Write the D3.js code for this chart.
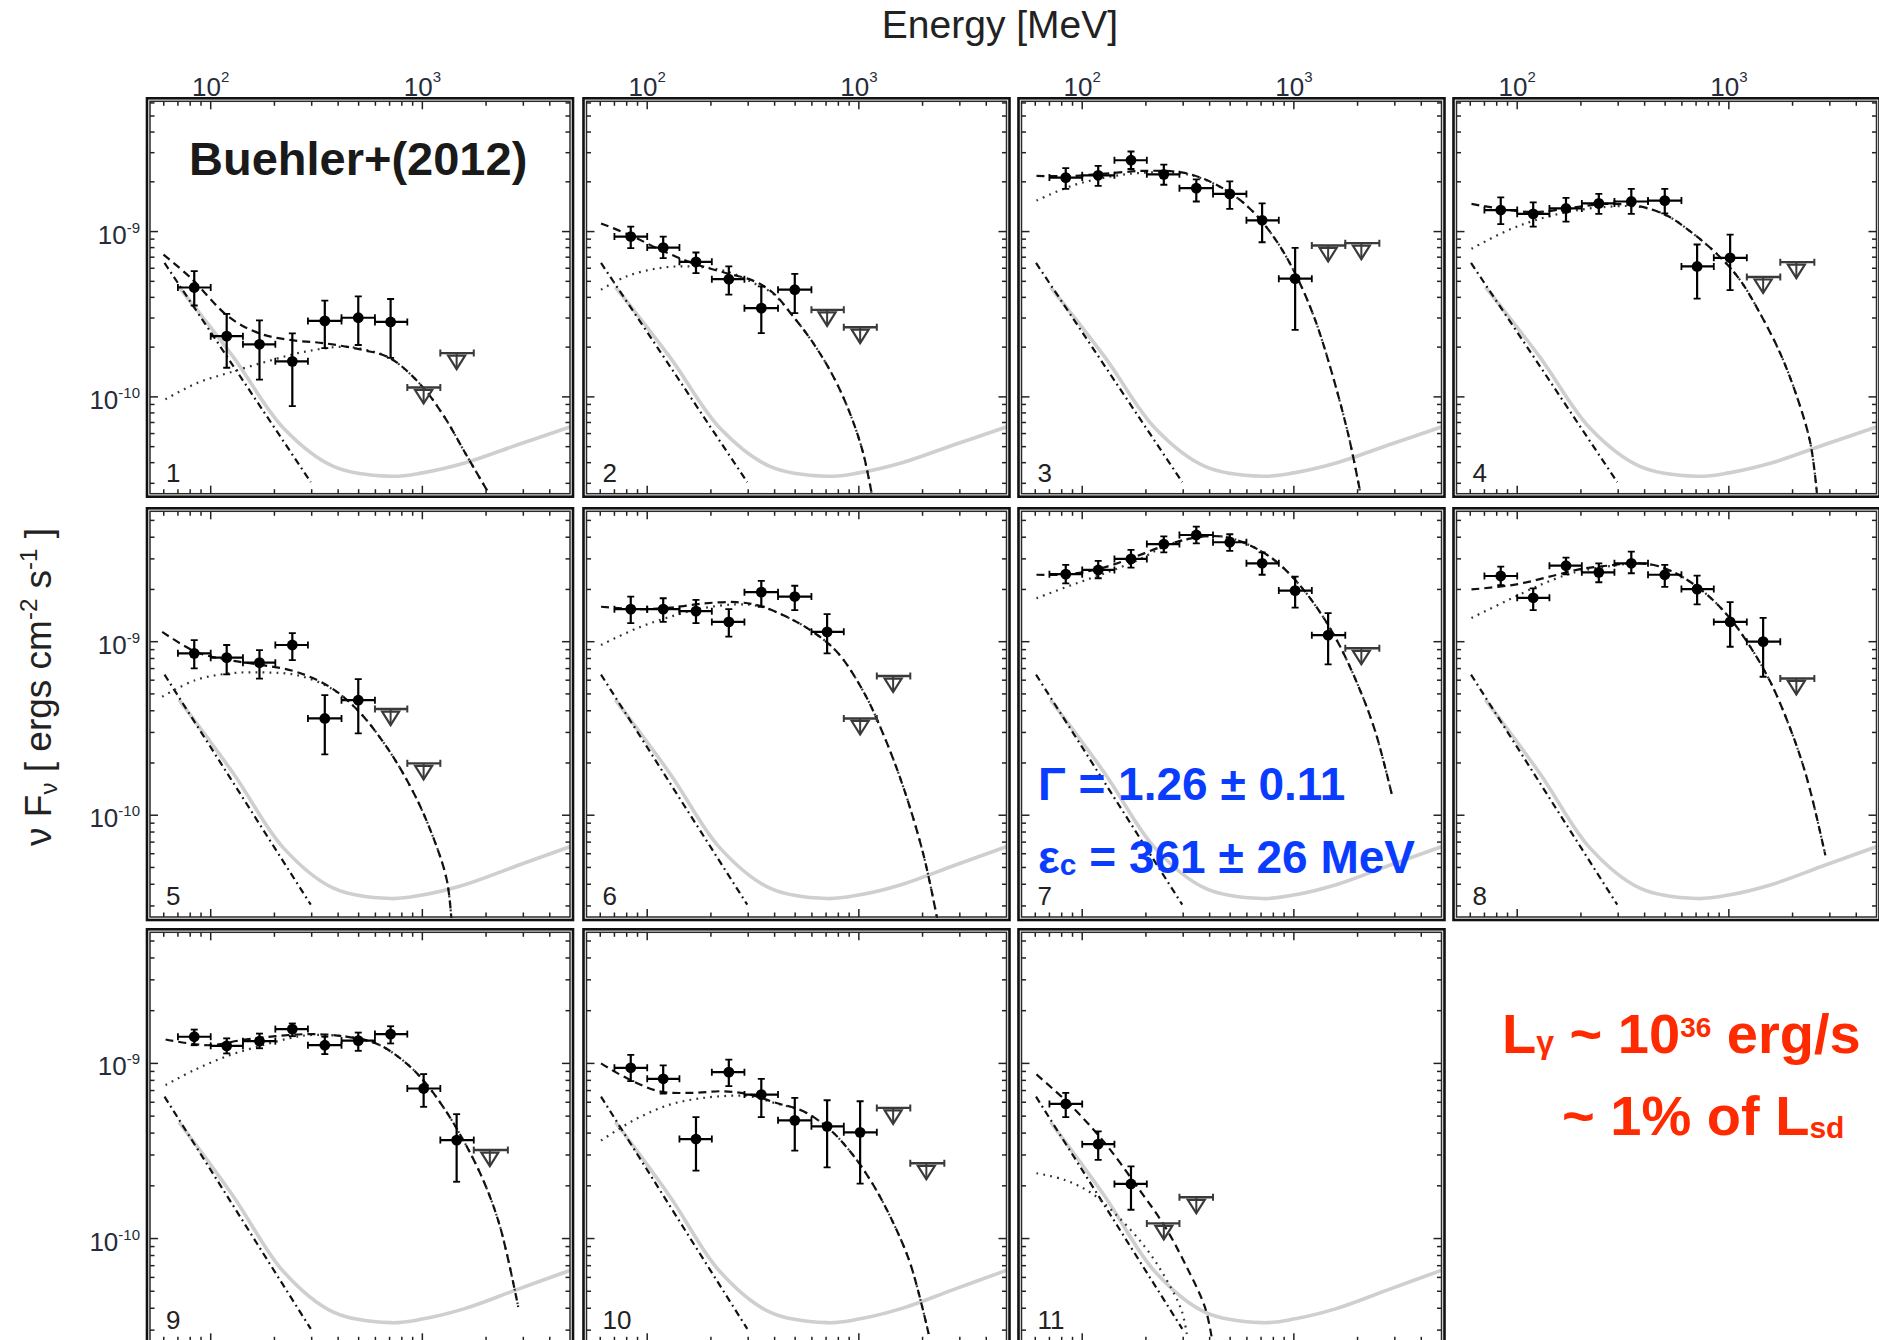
<!DOCTYPE html>
<html>
<head>
<meta charset="utf-8">
<script src="https://cdn.jsdelivr.net/npm/d3@7"></script>
<style>
  html, body { margin: 0; padding: 0; background: #fff; overflow: hidden; }
  svg { display: block; }
  text { font-family: "Liberation Sans", Arial, Helvetica, sans-serif; }
</style>
</head>
<body>
<svg id="chart" width="1879" height="1340"></svg>
<script>
// ---- Energy binning shared by every time interval (MeV) ----
const binLo  = [70, 100, 142, 202, 288, 415, 597, 849, 1216, 1750];
const binHi  = [100, 142, 202, 288, 415, 597, 849, 1216, 1750, 2535];
const binMid = [83.6, 119, 170, 243, 346, 498, 708, 1014, 1452, 2084];

// ---- Axis tick labels (decade, exponent text) ----
const xTickLabels = [[100, "2"], [1000, "3"]];
const yTickLabels = [[1e-9, "-9"], [1e-10, "-10"]];

// ---- Steady components, identical in every interval: [E (MeV), nuFnu] ----
const nebulaSteady = [[70.8, 4.62e-10], [128, 1.74e-10], [221, 6.46e-11], [380, 3.80e-11], [708, 3.31e-11],
  [1000, 3.47e-11], [1585, 3.98e-11], [2818, 5.13e-11], [5012, 6.6e-11]];
const syncPowerLaw = [[60.5, 6.46e-10], [297, 3.05e-11]];

// ---- Interval spectra: detections [bin, flux, fluxLow, fluxHigh], upper limits [bin, flux],
//      total model and flare component [E, nuFnu] ----
const sed1 = [[0, 4.59e-10, 3.57e-10, 5.77e-10], [1, 2.33e-10, 1.50e-10, 3.18e-10], [2, 2.08e-10, 1.27e-10, 2.90e-10],
  [3, 1.64e-10, 8.8e-11, 2.42e-10], [4, 2.88e-10, 1.97e-10, 3.82e-10], [5, 3.01e-10, 2.06e-10, 4.06e-10], [6, 2.84e-10, 1.72e-10, 3.91e-10]];
const ul1 = [[7, 1.14e-10], [8, 1.84e-10]];
const total1 = [[59.8, 7.26e-10], [80.2, 5.27e-10], [122, 3.04e-10], [170, 2.42e-10], [237, 2.21e-10], [345, 2.11e-10],
  [524, 1.92e-10], [701, 1.72e-10], [979, 1.19e-10], [1259, 7.71e-11], [1614, 4.45e-11], [2032, 2.69e-11]];
const flare1 = [[61.1, 9.68e-11], [87.1, 1.22e-10], [122, 1.40e-10], [185, 1.64e-10], [280, 1.88e-10], [426, 2.01e-10],
  [546, 1.92e-10], [701, 1.72e-10], [979, 1.19e-10], [1259, 7.71e-11], [1614, 4.45e-11], [2032, 2.69e-11]];

const sed2 = [[0, 9.33e-10, 7.93e-10, 1.07e-9], [1, 8.0e-10, 6.9e-10, 9.33e-10], [2, 6.56e-10, 5.6e-10, 7.47e-10],
  [3, 5.15e-10, 4.15e-10, 6.15e-10], [4, 3.44e-10, 2.43e-10, 4.66e-10], [5, 4.45e-10, 3.21e-10, 5.55e-10]];
const ul2 = [[6, 3.36e-10], [7, 2.64e-10]];
const total2 = [[60.5, 1.12e-9], [82.4, 9.55e-10], [114, 7.82e-10], [164, 6.44e-10], [237, 5.60e-10], [316, 5.05e-10],
  [394, 4.25e-10], [489, 3.07e-10], [608, 2.12e-10], [757, 1.33e-10], [906, 8.0e-11], [1047, 4.59e-11], [1148, 2.63e-11]];
const flare2 = [[60.5, 4.45e-10], [79.6, 5.35e-10], [114, 6.01e-10], [164, 6.15e-10], [237, 5.74e-10], [316, 4.90e-10],
  [394, 4.2e-10], [489, 3.07e-10], [608, 2.12e-10], [757, 1.33e-10], [906, 8.0e-11], [1047, 4.59e-11], [1148, 2.63e-11]];

const sed3 = [[0, 2.12e-9, 1.81e-9, 2.42e-9], [1, 2.19e-9, 1.89e-9, 2.50e-9], [2, 2.70e-9, 2.39e-9, 3.05e-9],
  [3, 2.22e-9, 1.92e-9, 2.54e-9], [4, 1.83e-9, 1.52e-9, 2.07e-9], [5, 1.69e-9, 1.37e-9, 2.01e-9],
  [6, 1.17e-9, 8.62e-10, 1.48e-9], [7, 5.19e-10, 2.54e-10, 7.97e-10]];
const ul3 = [[8, 8.24e-10], [9, 8.51e-10]];
const total3 = [[60.8, 2.17e-9], [89.1, 2.17e-9], [128, 2.24e-9], [198, 2.33e-9], [295, 2.28e-9], [380, 2.07e-9],
  [509, 1.69e-9], [656, 1.28e-9], [845, 8.43e-10], [1052, 5.07e-10], [1262, 2.91e-10], [1514, 1.39e-10], [1816, 5.77e-11], [2061, 2.63e-11]];
const flare3 = [[60.8, 1.54e-9], [89.1, 1.89e-9], [128, 2.12e-9], [184, 2.26e-9], [295, 2.25e-9], [380, 2.06e-9],
  [509, 1.69e-9], [656, 1.28e-9], [845, 8.43e-10], [1052, 5.07e-10], [1262, 2.91e-10], [1514, 1.39e-10], [1816, 5.77e-11], [2061, 2.63e-11]];

const sed4 = [[0, 1.35e-9, 1.11e-9, 1.61e-9], [1, 1.28e-9, 1.07e-9, 1.50e-9], [2, 1.38e-9, 1.15e-9, 1.60e-9],
  [3, 1.48e-9, 1.28e-9, 1.69e-9], [4, 1.52e-9, 1.28e-9, 1.81e-9], [5, 1.54e-9, 1.29e-9, 1.81e-9],
  [6, 6.15e-10, 3.93e-10, 8.35e-10], [7, 6.94e-10, 4.42e-10, 9.59e-10]];
const ul4 = [[8, 5.31e-10], [9, 6.53e-10]];
const total4 = [[60.8, 1.47e-9], [119, 1.31e-9], [184, 1.40e-9], [265, 1.47e-9], [380, 1.42e-9], [509, 1.25e-9],
  [681, 9.68e-10], [910, 7.0e-10], [1132, 5.07e-10], [1406, 3.19e-10], [1750, 1.83e-10], [2099, 1.0e-10], [2427, 5.26e-11], [2606, 2.63e-11]];
const flare4 = [[60.8, 7.87e-10], [89.1, 1.01e-9], [119, 1.16e-9], [171, 1.31e-9], [246, 1.40e-9], [380, 1.41e-9],
  [509, 1.25e-9], [681, 9.68e-10], [910, 7.0e-10], [1132, 5.07e-10], [1406, 3.19e-10], [1750, 1.83e-10], [2099, 1.0e-10], [2427, 5.26e-11], [2606, 2.63e-11]];

const sed5 = [[0, 8.57e-10, 7.02e-10, 1.02e-9], [1, 8.09e-10, 6.48e-10, 9.57e-10], [2, 7.57e-10, 6.13e-10, 8.95e-10],
  [3, 9.57e-10, 7.84e-10, 1.12e-9], [4, 3.61e-10, 2.24e-10, 4.92e-10], [5, 4.60e-10, 2.96e-10, 6.09e-10]];
const ul5 = [[6, 4.09e-10], [7, 1.99e-10]];
const total5 = [[59, 1.14e-9], [84.9, 8.75e-10], [122, 7.83e-10], [176, 7.33e-10], [253, 6.71e-10], [364, 5.50e-10],
  [486, 4.12e-10], [652, 2.65e-10], [871, 1.49e-10], [1084, 8.38e-11], [1300, 4.32e-11], [1371, 2.54e-11]];
const flare5 = [[59, 4.82e-10], [84.9, 6.01e-10], [122, 6.56e-10], [176, 6.65e-10], [253, 6.43e-10], [364, 5.45e-10],
  [486, 4.12e-10], [652, 2.65e-10], [871, 1.49e-10], [1084, 8.38e-11], [1300, 4.32e-11], [1371, 2.54e-11]];

const sed6 = [[0, 1.54e-9, 1.28e-9, 1.82e-9], [1, 1.54e-9, 1.30e-9, 1.78e-9], [2, 1.50e-9, 1.28e-9, 1.74e-9],
  [3, 1.30e-9, 1.07e-9, 1.54e-9], [4, 1.93e-9, 1.59e-9, 2.24e-9], [5, 1.82e-9, 1.52e-9, 2.10e-9], [6, 1.14e-9, 8.57e-10, 1.44e-9]];
const ul6 = [[7, 3.61e-10], [8, 6.34e-10]];
const total6 = [[60.5, 1.59e-9], [88.7, 1.54e-9], [128, 1.57e-9], [184, 1.66e-9], [264, 1.69e-9], [340, 1.61e-9],
  [456, 1.39e-9], [587, 1.17e-9], [787, 8.75e-10], [1052, 5.15e-10], [1309, 2.90e-10], [1629, 1.43e-10], [2023, 5.87e-11], [2344, 2.54e-11]];
const flare6 = [[60.5, 9.57e-10], [88.7, 1.19e-9], [128, 1.39e-9], [184, 1.56e-9], [264, 1.64e-9], [340, 1.60e-9],
  [456, 1.39e-9], [587, 1.17e-9], [787, 8.75e-10], [1052, 5.15e-10], [1309, 2.90e-10], [1629, 1.43e-10], [2023, 5.87e-11], [2344, 2.54e-11]];

const sed7 = [[0, 2.45e-9, 2.17e-9, 2.77e-9], [1, 2.59e-9, 2.32e-9, 2.92e-9], [2, 3.00e-9, 2.67e-9, 3.38e-9],
  [3, 3.65e-9, 3.27e-9, 4.04e-9], [4, 4.12e-9, 3.69e-9, 4.60e-9], [5, 3.74e-9, 3.34e-9, 4.16e-9],
  [6, 2.83e-9, 2.43e-9, 3.27e-9], [7, 1.97e-9, 1.57e-9, 2.37e-9], [8, 1.09e-9, 7.40e-10, 1.46e-9]];
const ul7 = [[9, 9.16e-10]];
const total7 = [[60.8, 2.43e-9], [82.8, 2.44e-9], [119, 2.62e-9], [171, 3.03e-9], [246, 3.58e-9], [341, 3.98e-9],
  [456, 4.04e-9], [589, 3.69e-9], [787, 3.03e-9], [1014, 2.27e-9], [1309, 1.52e-9], [1626, 9.77e-10], [2023, 5.50e-10], [2427, 3.03e-10], [2911, 1.30e-10]];
const flare7 = [[60.8, 1.78e-9], [89.1, 2.12e-9], [128, 2.48e-9], [184, 2.96e-9], [246, 3.55e-9], [341, 3.97e-9],
  [456, 4.04e-9], [589, 3.69e-9], [787, 3.03e-9], [1014, 2.27e-9], [1309, 1.52e-9], [1626, 9.77e-10], [2023, 5.50e-10], [2427, 3.03e-10], [2911, 1.30e-10]];

const sed8 = [[0, 2.39e-9, 2.12e-9, 2.71e-9], [1, 1.79e-9, 1.52e-9, 2.03e-9], [2, 2.74e-9, 2.44e-9, 3.05e-9],
  [3, 2.51e-9, 2.20e-9, 2.83e-9], [4, 2.83e-9, 2.48e-9, 3.30e-9], [5, 2.43e-9, 2.07e-9, 2.77e-9],
  [6, 2.01e-9, 1.64e-9, 2.40e-9], [7, 1.30e-9, 9.35e-10, 1.69e-9], [8, 1.00e-9, 6.28e-10, 1.37e-9]];
const ul8 = [[9, 6.14e-10]];
const total8 = [[60.8, 2.00e-9], [99.3, 2.14e-9], [148, 2.40e-9], [198, 2.62e-9], [265, 2.74e-9], [354, 2.83e-9],
  [456, 2.74e-9], [589, 2.40e-9], [787, 1.87e-9], [1014, 1.36e-9], [1262, 9.35e-10], [1570, 5.87e-10], [1950, 3.16e-10], [2339, 1.63e-10], [2858, 5.87e-11]];
const flare8 = [[60.8, 1.37e-9], [89.1, 1.72e-9], [128, 2.12e-9], [171, 2.43e-9], [198, 2.55e-9], [265, 2.71e-9], [354, 2.82e-9],
  [456, 2.74e-9], [589, 2.40e-9], [787, 1.87e-9], [1014, 1.36e-9], [1262, 9.35e-10], [1570, 5.87e-10], [1950, 3.16e-10], [2339, 1.63e-10], [2858, 5.87e-11]];

const sed9 = [[0, 1.42e-9, 1.27e-9, 1.56e-9], [1, 1.26e-9, 1.14e-9, 1.39e-9], [2, 1.34e-9, 1.22e-9, 1.48e-9],
  [3, 1.57e-9, 1.43e-9, 1.69e-9], [4, 1.27e-9, 1.13e-9, 1.42e-9], [5, 1.35e-9, 1.18e-9, 1.50e-9],
  [6, 1.47e-9, 1.30e-9, 1.63e-9], [7, 7.19e-10, 5.65e-10, 8.69e-10], [8, 3.65e-10, 2.11e-10, 5.13e-10]];
const ul9 = [[9, 3.20e-10]];
const total9 = [[61.2, 1.37e-9], [98.2, 1.27e-9], [141, 1.36e-9], [203, 1.43e-9], [292, 1.47e-9], [421, 1.43e-9],
  [605, 1.30e-9], [809, 1.04e-9], [1007, 8.04e-10], [1253, 5.65e-10], [1560, 3.65e-10], [1941, 2.15e-10], [2328, 1.17e-10], [2838, 4.07e-11]];
const flare9 = [[61.2, 7.52e-10], [84.9, 9.25e-10], [122, 1.11e-9], [176, 1.27e-9], [235, 1.39e-9], [292, 1.45e-9], [421, 1.43e-9],
  [605, 1.30e-9], [809, 1.04e-9], [1007, 8.04e-10], [1253, 5.65e-10], [1560, 3.65e-10], [1941, 2.15e-10], [2328, 1.17e-10], [2838, 4.07e-11]];

const sed10 = [[0, 9.44e-10, 7.92e-10, 1.12e-9], [1, 8.17e-10, 6.73e-10, 9.75e-10], [2, 3.70e-10, 2.44e-10, 4.94e-10],
  [3, 8.91e-10, 7.41e-10, 1.05e-9], [4, 6.64e-10, 4.94e-10, 8.17e-10], [5, 4.73e-10, 3.18e-10, 6.35e-10],
  [6, 4.37e-10, 2.55e-10, 6.16e-10], [7, 4.04e-10, 2.06e-10, 6.08e-10]];
const ul10 = [[8, 5.57e-10], [9, 2.69e-10]];
const total10 = [[60.5, 1.00e-9], [79.4, 8.28e-10], [114, 6.93e-10], [164, 6.79e-10], [229, 6.93e-10], [305, 6.64e-10],
  [408, 5.94e-10], [547, 5.33e-10], [731, 4.18e-10], [910, 3.14e-10], [1132, 2.16e-10], [1409, 1.33e-10], [1750, 7.19e-11], [2138, 2.85e-11]];
const flare10 = [[60.5, 3.63e-10], [88.7, 4.82e-10], [128, 5.82e-10], [184, 6.35e-10], [264, 6.55e-10], [305, 6.5e-10],
  [408, 5.9e-10], [547, 5.33e-10], [731, 4.18e-10], [910, 3.14e-10], [1132, 2.16e-10], [1409, 1.33e-10], [1750, 7.19e-11], [2138, 2.85e-11]];

const sed11 = [[0, 5.87e-10, 4.94e-10, 6.79e-10], [1, 3.46e-10, 2.81e-10, 4.09e-10], [2, 2.05e-10, 1.46e-10, 2.58e-10]];
const ul11 = [[3, 1.22e-10], [4, 1.72e-10]];
const total11 = [[60.8, 8.65e-10], [89.1, 5.69e-10], [128, 3.51e-10], [184, 1.94e-10], [246, 1.17e-10], [306, 7.19e-11],
  [380, 4.06e-11], [409, 2.73e-11]];
const flare11 = [[60.8, 2.36e-10], [82.8, 2.16e-10], [111, 1.81e-10], [148, 1.33e-10], [198, 8.95e-11], [246, 6.03e-11],
  [295, 3.88e-11], [312, 2.85e-11]];

// ---- Panel grid ----
const panels = [
  { id: "1", sed: sed1, ul: ul1, total: total1, flare: flare1 },
  { id: "2", sed: sed2, ul: ul2, total: total2, flare: flare2 },
  { id: "3", sed: sed3, ul: ul3, total: total3, flare: flare3 },
  { id: "4", sed: sed4, ul: ul4, total: total4, flare: flare4 },
  { id: "5", sed: sed5, ul: ul5, total: total5, flare: flare5 },
  { id: "6", sed: sed6, ul: ul6, total: total6, flare: flare6 },
  { id: "7", sed: sed7, ul: ul7, total: total7, flare: flare7 },
  { id: "8", sed: sed8, ul: ul8, total: total8, flare: flare8 },
  { id: "9", sed: sed9, ul: ul9, total: total9, flare: flare9 },
  { id: "10", sed: sed10, ul: ul10, total: total10, flare: flare10 },
  { id: "11", sed: sed11, ul: ul11, total: total11, flare: flare11 }
];

const colLeft = [147, 583.5, 1018.5, 1453.5];
const panelW = 426;
const rowTop = [98.3, 508.3, 929.3];
const rowH = [398.4, 411.7, 415];
const rowFluxMax = [6.4e-9, 5.87e-9, 5.83e-9];
const fluxMin = 2.49e-11;
const energyDomain = [50, 5150];

const svg = d3.select("#chart");
const defs = svg.append("defs");

panels.forEach((p, i) => {
  const col = i % 4, row = Math.floor(i / 4);
  const left = colLeft[col], top = rowTop[row], h = rowH[row];

  const x = d3.scaleLog().domain(energyDomain).range([left, left + panelW]);
  const y = d3.scaleLog().domain([fluxMin, rowFluxMax[row]]).range([top + h, top]);

  const g = svg.append("g").attr("class", "panel");
  const clipId = "clip" + p.id;
  defs.append("clipPath").attr("id", clipId)
    .append("rect").attr("x", left + 2).attr("y", top + 2).attr("width", panelW - 4).attr("height", h - 4);

  const plot = g.append("g").attr("clip-path", `url(#${clipId})`);
  const line = d3.line().x(d => x(d[0])).y(d => y(d[1])).curve(d3.curveCatmullRom.alpha(0.5));

  // steady nebula (light grey band)
  plot.append("path").datum(nebulaSteady).attr("d", line)
    .attr("fill", "none").attr("stroke", "#cfcfcf").attr("stroke-width", 3.6);
  // synchrotron power law (dash-dot)
  plot.append("path").datum(syncPowerLaw).attr("d", line)
    .attr("fill", "none").attr("stroke", "#111").attr("stroke-width", 2.2)
    .attr("stroke-dasharray", "7,4,1.8,4");
  // flare component (dotted)
  plot.append("path").datum(p.flare).attr("d", line)
    .attr("fill", "none").attr("stroke", "#333").attr("stroke-width", 2.2)
    .attr("stroke-dasharray", "1.8,5.2");
  // total model (dashed)
  plot.append("path").datum(p.total).attr("d", line)
    .attr("fill", "none").attr("stroke", "#111").attr("stroke-width", 2.2)
    .attr("stroke-dasharray", "8,5");

  // upper limits: bin bar with open downward triangle
  const ulG = plot.append("g").attr("stroke", "#3a3a3a").attr("fill", "none");
  p.ul.forEach(([b, f]) => {
    const x0 = x(binLo[b]), x1 = x(binHi[b]), xm = x(binMid[b]), yy = y(f);
    ulG.append("line").attr("x1", x0).attr("x2", x1).attr("y1", yy).attr("y2", yy).attr("stroke-width", 2.4);
    ulG.append("line").attr("x1", x0).attr("x2", x0).attr("y1", yy - 3.5).attr("y2", yy + 3.5).attr("stroke-width", 2);
    ulG.append("line").attr("x1", x1).attr("x2", x1).attr("y1", yy - 3.5).attr("y2", yy + 3.5).attr("stroke-width", 2);
    ulG.append("path").attr("d", `M${xm - 8.5},${yy + 2.5}L${xm + 8.5},${yy + 2.5}L${xm},${yy + 16}Z`).attr("stroke-width", 2.2);
    ulG.append("line").attr("x1", xm).attr("x2", xm).attr("y1", yy).attr("y2", yy + 16).attr("stroke-width", 2);
  });

  // detections with energy and flux error bars
  const ptG = plot.append("g").attr("stroke", "#000");
  p.sed.forEach(([b, f, lo, hi]) => {
    const x0 = x(binLo[b]), x1 = x(binHi[b]), xm = x(binMid[b]);
    const yy = y(f), yl = y(lo), yh = y(hi);
    ptG.append("line").attr("x1", x0).attr("x2", x1).attr("y1", yy).attr("y2", yy).attr("stroke-width", 2.2);
    ptG.append("line").attr("x1", x0).attr("x2", x0).attr("y1", yy - 3.5).attr("y2", yy + 3.5).attr("stroke-width", 1.8);
    ptG.append("line").attr("x1", x1).attr("x2", x1).attr("y1", yy - 3.5).attr("y2", yy + 3.5).attr("stroke-width", 1.8);
    ptG.append("line").attr("x1", xm).attr("x2", xm).attr("y1", yl).attr("y2", yh).attr("stroke-width", 2.2);
    ptG.append("line").attr("x1", xm - 3.5).attr("x2", xm + 3.5).attr("y1", yl).attr("y2", yl).attr("stroke-width", 1.8);
    ptG.append("line").attr("x1", xm - 3.5).attr("x2", xm + 3.5).attr("y1", yh).attr("y2", yh).attr("stroke-width", 1.8);
    ptG.append("circle").attr("cx", xm).attr("cy", yy).attr("r", 5.4).attr("fill", "#000").attr("stroke", "none");
  });

  // frame (double line) and inward ticks on all four sides
  g.append("rect").attr("x", left).attr("y", top).attr("width", panelW).attr("height", h)
    .attr("fill", "none").attr("stroke", "#111").attr("stroke-width", 2.6);
  g.append("rect").attr("x", left + 3).attr("y", top + 3).attr("width", panelW - 6).attr("height", h - 6)
    .attr("fill", "none").attr("stroke", "#2a2a2a").attr("stroke-width", 1.5);

  const tickG = g.append("g").attr("stroke", "#222").attr("stroke-width", 1.5);
  const isMajor = v => Math.abs(Math.log10(v) - Math.round(Math.log10(v))) < 1e-6;
  x.ticks().forEach(v => {
    const xx = x(v); if (xx < left + 4 || xx > left + panelW - 4) return;
    const len = isMajor(v) ? 8 : 4.5;
    tickG.append("line").attr("x1", xx).attr("x2", xx).attr("y1", top + 3).attr("y2", top + 3 + len);
    tickG.append("line").attr("x1", xx).attr("x2", xx).attr("y1", top + h - 3).attr("y2", top + h - 3 - len);
  });
  y.ticks().forEach(v => {
    const yy = y(v); if (yy < top + 4 || yy > top + h - 4) return;
    const len = isMajor(v) ? 8 : 4.5;
    tickG.append("line").attr("y1", yy).attr("y2", yy).attr("x1", left + 3).attr("x2", left + 3 + len);
    tickG.append("line").attr("y1", yy).attr("y2", yy).attr("x1", left + panelW - 3).attr("x2", left + panelW - 3 - len);
  });

  // energy tick labels above the top row
  if (row === 0) {
    xTickLabels.forEach(([v, ex]) => {
      const t = g.append("text").attr("x", x(v)).attr("y", top - 2)
        .attr("text-anchor", "middle").attr("font-size", 26).attr("fill", "#262b3a").text("10");
      t.append("tspan").attr("dy", -14).attr("font-size", 15).text(ex);
    });
  }
  // flux tick labels left of the first column
  if (col === 0) {
    yTickLabels.forEach(([v, ex]) => {
      const t = g.append("text").attr("x", left - 7).attr("y", y(v) + 12)
        .attr("text-anchor", "end").attr("font-size", 26).attr("fill", "#262b3a").text("10");
      t.append("tspan").attr("dy", -11).attr("font-size", 15).text(ex);
    });
  }

  // interval number
  g.append("text").attr("x", left + 19).attr("y", top + h - 15)
    .attr("font-size", 26).attr("fill", "#222").text(p.id);
});

// ---- Titles and annotations ----
svg.append("text").attr("x", 1000).attr("y", 38).attr("text-anchor", "middle")
  .attr("font-size", 39).attr("fill", "#222").text("Energy [MeV]");

const yt = svg.append("text").attr("transform", "translate(51,687) rotate(-90)")
  .attr("text-anchor", "middle").attr("font-size", 37).attr("fill", "#222");
yt.append("tspan").text("ν F");
yt.append("tspan").attr("font-size", 24).attr("dy", 6).text("ν");
yt.append("tspan").attr("dy", -6).text(" [ ergs cm");
yt.append("tspan").attr("font-size", 24).attr("dy", -14).text("-2");
yt.append("tspan").attr("dy", 14).text(" s");
yt.append("tspan").attr("font-size", 24).attr("dy", -14).text("-1");
yt.append("tspan").attr("dy", 14).text(" ]");

svg.append("text").attr("x", 189).attr("y", 175).attr("font-size", 47).attr("font-weight", "bold")
  .attr("fill", "#1a1a1a").text("Buehler+(2012)");

const blue = "#0a3cff";
svg.append("text").attr("x", 1038).attr("y", 800).attr("font-size", 46).attr("font-weight", "bold")
  .attr("fill", blue).text("Γ = 1.26 ± 0.11");
const ec = svg.append("text").attr("x", 1038).attr("y", 873).attr("font-size", 46).attr("font-weight", "bold").attr("fill", blue);
ec.append("tspan").text("ε");
ec.append("tspan").attr("font-size", 30).attr("dy", 2).text("c");
ec.append("tspan").attr("dy", -2).text(" = 361 ± 26 MeV");

const red = "#ff2a00";
const l1 = svg.append("text").attr("x", 1502).attr("y", 1053).attr("font-size", 56).attr("font-weight", "bold").attr("fill", red);
l1.append("tspan").text("L");
l1.append("tspan").attr("font-size", 32).text("γ");
l1.append("tspan").text(" ~ 10");
l1.append("tspan").attr("font-size", 28).attr("dy", -16).text("36");
l1.append("tspan").attr("dy", 16).text(" erg/s");
const l2 = svg.append("text").attr("x", 1562).attr("y", 1135).attr("font-size", 56).attr("font-weight", "bold").attr("fill", red);
l2.append("tspan").text("~ 1% of L");
l2.append("tspan").attr("font-size", 30).attr("dy", 3).text("sd");
</script>
</body>
</html>
